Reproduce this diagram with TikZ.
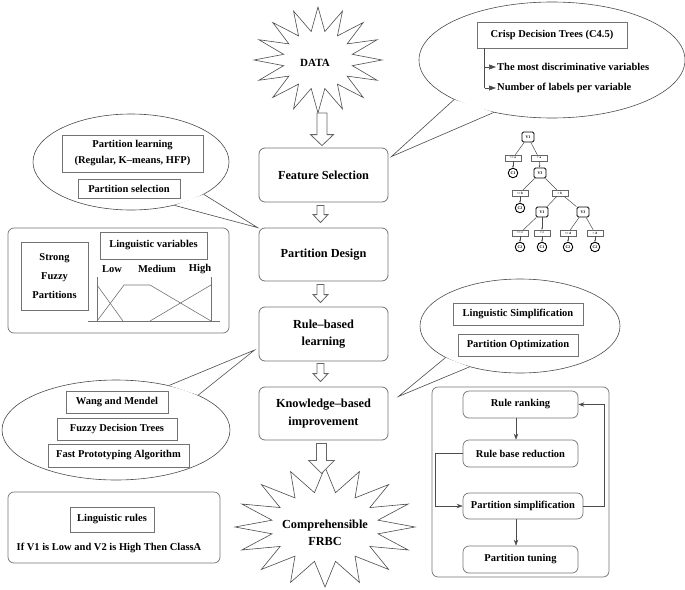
\documentclass[tikz,border=0pt]{standalone}
\usepackage{fontspec}
\setmainfont{Liberation Serif}
\usetikzlibrary{calc,shapes.geometric,arrows.meta}
\newcommand\harrow[5]{%
  \draw[barrow] let \p1=(#1), \p2=(#2) in
  (\x1-#3,\y1) -- (\x1-#3,\y2+#5) -- (\x1-#4,\y2+#5) -- (\x1,\y2) --
  (\x1+#4,\y2+#5) -- (\x1+#3,\y2+#5) -- (\x1+#3,\y1) -- cycle;}
\begin{document}
\begin{tikzpicture}[x=1pt,y=-1pt,
  mainbox/.style={draw=black!55, rounded corners=6pt, line width=0.8pt, minimum width=129pt, align=center, font=\fontsize{12.3}{17.5}\selectfont\bfseries},
  lbl/.style={draw=black!55, line width=0.7pt, align=center, font=\fontsize{10.5}{14}\selectfont\bfseries, inner sep=1pt},
  txt/.style={align=center, font=\fontsize{10.5}{14}\selectfont\bfseries, inner sep=1pt},
  panel/.style={draw=black!55, rounded corners=6pt, line width=0.7pt, inner sep=0pt},
  flowbox/.style={draw=black!55, rounded corners=6pt, line width=0.7pt, align=center, font=\fontsize{10.5}{14}\selectfont\bfseries, inner sep=1pt},
  bubble/.style={ellipse, draw=black!70, line width=0.6pt, inner sep=0pt},
  tailline/.style={draw=black!70, line width=0.6pt},
  barrow/.style={draw=black!60, fill=white, line width=0.8pt, line join=miter},
  starline/.style={draw=black!70, fill=white, line width=0.6pt, line join=miter, miter limit=20},
  flowarrow/.style={draw=black!70, line width=0.6pt, -{Stealth[length=6pt,width=4.5pt]}},
  mf/.style={draw=black!55, line width=0.6pt},
  tv/.style={draw, rounded corners=1.5pt, line width=0.9pt, minimum width=12pt, minimum height=10pt, inner sep=0pt, font=\fontsize{4}{4}\selectfont\bfseries},
  tc/.style={draw=black!60, line width=0.5pt, minimum width=16pt, minimum height=6pt, inner sep=0pt, font=\fontsize{3.3}{3.3}\selectfont\bfseries},
  tl/.style={circle, draw, line width=0.9pt, minimum size=9.5pt, inner sep=0pt, font=\fontsize{4}{4}\selectfont\bfseries},
  te/.style={draw=black!70, line width=0.5pt},
  ta/.style={draw=black!70, line width=0.5pt, -{Stealth[length=2.2pt,width=1.8pt]}}
]
\useasboundingbox (0,0) rectangle (685,589);

% ---------- stars ----------
\draw[starline] plot[samples=33, domain=0:32, variable=\k]
  ({318+ifthenelse(mod(\k,2)==0,64,35)*cos(90+\k*11.25)},
   {60-ifthenelse(mod(\k,2)==0,53,29)*sin(90+\k*11.25)}) -- cycle;
\node[font=\fontsize{11}{13}\selectfont\bfseries] (data) at (315,63) {DATA};

\draw[starline] plot[samples=33, domain=0:32, variable=\k]
  ({325+ifthenelse(mod(\k,2)==0,90,54)*cos(90+\k*11.25)},
   {527-ifthenelse(mod(\k,2)==0,60,35)*sin(90+\k*11.25)}) -- cycle;
\node[align=center, font=\fontsize{12.3}{17}\selectfont\bfseries] (frbc) at (325,533) {Comprehensible\\FRBC};

% ---------- main boxes ----------
\node[mainbox, minimum height=54pt] (fs) at (323.5,175) {Feature Selection};
\node[mainbox, minimum height=53pt] (pd) at (323.5,254.5) {Partition Design};
\node[mainbox, minimum height=54pt] (rbl) at (323.5,334) {Rule--based\\learning};
\node[mainbox, minimum height=53pt] (kbi) at (323.5,413.5) {Knowledge--based\\improvement};

% ---------- block arrows ----------
\coordinate (a0s) at (322,113);
\harrow{a0s}{$(fs.north)+(0,-2)$}{5pt}{11.5pt}{11pt}
\harrow{$(fs.south)+(-3,3)$}{$(pd.north)+(0,-5)$}{3.5pt}{7.5pt}{8pt}
\harrow{$(pd.south)+(-3,3)$}{$(rbl.north)+(0,-4)$}{3.5pt}{7.5pt}{8pt}
\harrow{$(rbl.south)+(-3,2)$}{$(kbi.north)+(0,-5)$}{3.5pt}{7.5pt}{8pt}
\harrow{$(kbi.south)+(-2,3)$}{$(kbi.south)+(-2,33)$}{5pt}{13pt}{13pt}

% ---------- top right bubble ----------
\node[bubble, minimum width=266pt, minimum height=116pt] (b1) at (552,60) {};
\coordinate (tip1) at ($(fs.north east)+(3,9)$);
\fill[white] (b1.202) -- (tip1) -- (b1.222) -- cycle;
\draw[tailline] (b1.202) -- (tip1) -- (b1.222);
\node[lbl, minimum width=150pt, minimum height=26pt] (crisp) at (552,35) {Crisp Decision Trees (C4.5)};
\node[txt, anchor=west] (t1) at (496,67) {The most discriminative variables};
\node[txt, anchor=west] (t2) at (496,88) {Number of labels per variable};
\coordinate (vtop) at ($(crisp.south west)+(8,0)$);
\draw[draw=black!70, line width=0.6pt] (vtop) -- (vtop |- t2.west);
\draw[draw=black!70, line width=0.6pt, -{Triangle[length=7pt,width=5pt]}] (vtop |- t1.west) -- (t1.west);
\draw[draw=black!70, line width=0.6pt, -{Triangle[length=7pt,width=5pt]}] (vtop |- t2.west) -- (t2.west);

% ---------- decision tree ----------
\node[tv] (r) at (528,137) {V1};
\node[tc] (ca1) at (513,158) {<= a};
\node[tc] (ca2) at (539,158) {> a};
\node[tl] (c1a) at (513,173) {C1};
\node[tv] (v3a) at (540,173) {V3};
\node[tc] (cb1) at (520,193) {<= b};
\node[tc] (cb2) at (560,193) {> b};
\node[tl] (c2a) at (520,208) {C2};
\node[tv] (v1b) at (542,212) {V1};
\node[tv] (v3b) at (583,212) {V3};
\node[tc] (cc1) at (520,233) {<= c};
\node[tc] (cc2) at (542,233) {> c};
\node[tc] (cd1) at (568,233) {<= d};
\node[tc] (cd2) at (595,233) {> d};
\node[tl] (l1) at (520,247) {C2};
\node[tl] (l2) at (542,247) {C1};
\node[tl] (l3) at (568,247) {C2};
\node[tl] (l4) at (595,247) {C2};
\draw[te] (r) -- (ca1); \draw[te] (r) -- (ca2);
\draw[ta] (ca1) -- (c1a); \draw[ta] (ca2) -- (v3a);
\draw[te] (v3a) -- (cb1); \draw[te] (v3a) -- (cb2);
\draw[ta] (cb1) -- (c2a);
\draw[te] (cb2) -- (v1b); \draw[te] (cb2) -- (v3b);
\draw[te] (v1b) -- (cc1); \draw[ta] (v1b) -- (cc2);
\draw[te] (v3b) -- (cd1); \draw[te] (v3b) -- (cd2);
\draw[ta] (cc1) -- (l1); \draw[ta] (cc2) -- (l2);
\draw[ta] (cd1) -- (l3); \draw[ta] (cd2) -- (l4);

% ---------- top left bubble ----------
\node[bubble, minimum width=196pt, minimum height=96pt] (b2) at (131,162) {};
\coordinate (tip2) at ($(pd.north west)+(-1,0)$);
\fill[white] (b2.336) -- (tip2) -- (b2.315) -- cycle;
\draw[tailline] (b2.336) -- (tip2) -- (b2.315);
\node[lbl, minimum width=141pt, minimum height=37pt] (pl) at (132.5,153.5) {Partition learning\\[2pt](Regular, K--means, HFP)};
\node[lbl, minimum width=102pt, minimum height=19pt] (ps1) at (129,188.5) {Partition selection};

% ---------- strong fuzzy partitions panel ----------
\node[panel, minimum width=221pt, minimum height=105pt] (sfp) at (118.5,280.5) {};
\node[lbl, minimum width=67pt, minimum height=68pt, font=\fontsize{10.5}{19}\selectfont\bfseries] (sfpt) at (54.5,276) {Strong\\Fuzzy\\Partitions};
\node[lbl, minimum width=107pt, minimum height=27pt] (lv) at (153.5,245.5) {Linguistic variables};
\node[txt] (low) at (112,269) {Low};
\node[txt] (med) at (157,269) {Medium};
\node[txt] (high) at (200,269) {High};
\draw[mf] (88,321) -- (220,321);
\draw[mf] (97,277) -- (97,321);
\draw[mf] (211,277) -- (211,321);
\draw[mf] (97,285) -- (123,321);
\draw[mf] (97,321) -- (124,285) -- (150,285) -- (211,321);
\draw[mf] (150,321) -- (211,285);

% ---------- middle right bubble ----------
\node[bubble, minimum width=200pt, minimum height=94pt] (b3) at (520,326) {};
\coordinate (tip3) at ($(kbi.east)+(10,-17)$);
\fill[white] (b3.203) -- (tip3) -- (b3.219) -- cycle;
\draw[tailline] (b3.203) -- (tip3) -- (b3.219);
\node[lbl, minimum width=130pt, minimum height=22pt] (lsimp) at (518,314) {Linguistic Simplification};
\node[lbl, minimum width=120pt, minimum height=22pt] (popt) at (518,345) {Partition Optimization};

% ---------- bottom left bubble ----------
\node[bubble, minimum width=228pt, minimum height=100pt] (b4) at (116,430) {};
\coordinate (tip4) at ($(rbl.west)+(-4,16)$);
\fill[white] (b4.40) -- (tip4) -- (b4.23) -- cycle;
\draw[tailline] (b4.40) -- (tip4) -- (b4.23);
\node[lbl, minimum width=102pt, minimum height=22pt] (wm) at (117,402) {Wang and Mendel};
\node[lbl, minimum width=120pt, minimum height=22pt] (fdt) at (117,429) {Fuzzy Decision Trees};
\node[lbl, minimum width=141pt, minimum height=23pt] (fpa) at (118.5,455.5) {Fast Prototyping Algorithm};

% ---------- linguistic rules panel ----------
\node[panel, minimum width=212pt, minimum height=71pt] (lrp) at (114,527.5) {};
\node[lbl, minimum width=84pt, minimum height=25pt] (lr) at (112,519.5) {Linguistic rules};
\node[txt] (rule) at (109,548) {If V1 is Low and V2 is High Then ClassA};

% ---------- bottom right flow ----------
\node[panel, minimum width=177pt, minimum height=190pt] (flowp) at (520.5,482) {};
\node[flowbox, minimum width=115pt, minimum height=27pt] (rr) at (520.5,404.5) {Rule ranking};
\node[flowbox, minimum width=115pt, minimum height=27pt] (rbr) at (520.5,453.5) {Rule base reduction};
\node[flowbox, minimum width=120pt, minimum height=26pt] (psimp) at (523,506) {Partition simplification};
\node[flowbox, minimum width=115pt, minimum height=27pt] (pt) at (520.5,559.5) {Partition tuning};
\draw[flowarrow] (rr.south -| 516,0) -- (rbr.north -| 516,0);
\draw[flowarrow] (psimp.south -| 516,0) -- (pt.north -| 516,0);
\draw[flowarrow] (rbr.west) -- ++(-27,0) |- (psimp.west);
\draw[flowarrow] (psimp.east) -- ++(21,0) |- (rr.east);
\end{tikzpicture}
\end{document}
